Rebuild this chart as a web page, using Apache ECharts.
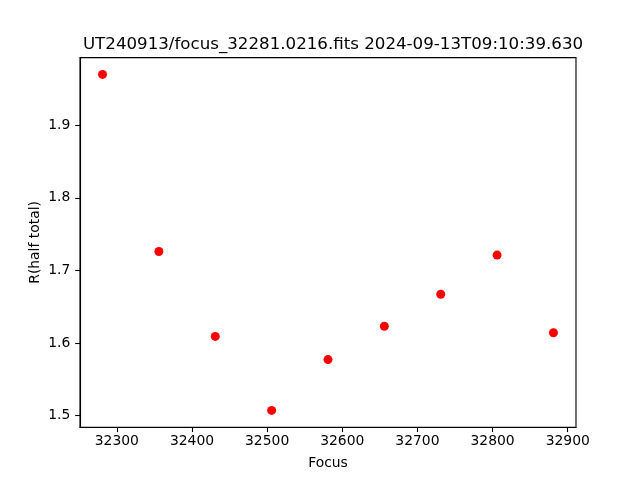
<!DOCTYPE html>
<html>
<head>
<meta charset="utf-8">
<script src="https://cdn.jsdelivr.net/npm/echarts@6/dist/echarts.min.js"></script>
<style>html,body{margin:0;padding:0;background:#fff}#c{width:640px;height:480px}</style>
</head>
<body>
<div id="c"></div>
<script>
const focusValues = [32281, 32356, 32431, 32506, 32581, 32656, 32731, 32806, 32881];
const rHalfTotal = [1.970, 1.726, 1.609, 1.507, 1.577, 1.623, 1.667, 1.721, 1.614];
const xTicks = [32300, 32400, 32500, 32600, 32700, 32800, 32900];
const yTicks = [1.5, 1.6, 1.7, 1.8, 1.9];
const titleText = 'UT240913/focus_32281.0216.fits 2024-09-13T09:10:39.630';

const xMinD = Math.min(...focusValues), xMaxD = Math.max(...focusValues);
const yMinD = Math.min(...rHalfTotal), yMaxD = Math.max(...rHalfTotal);
const xm = (xMaxD - xMinD) * 0.05, ym = (yMaxD - yMinD) * 0.05;

const font = 'DejaVu Sans';
const chart = echarts.init(document.getElementById('c'), null, {renderer: 'canvas'});
chart.setOption({
  animation: false,
  backgroundColor: '#fff',
  title: {
    text: titleText, left: 328, top: 31, textAlign: 'center',
    textStyle: {fontFamily: font, fontSize: 16.67, fontWeight: 'normal', color: '#000'}
  },
  grid: {left: 80, right: 64, top: 57.6, bottom: 52.8, show: true, borderColor: '#000', borderWidth: 1.1, backgroundColor: 'transparent'},
  xAxis: {
    type: 'value', min: xMinD - xm, max: xMaxD + xm,
    name: 'Focus', nameLocation: 'middle', nameGap: 29, nameMoveOverlap: false,
    nameTextStyle: {fontFamily: font, fontSize: 13.9, color: '#000'},
    axisLine: {show: true, lineStyle: {color: '#000', width: 1.1}},
    axisTick: {show: true, length: 4.86, lineStyle: {color: '#000', width: 1.1}, customValues: xTicks},
    axisLabel: {fontFamily: font, fontSize: 13.9, color: '#000', margin: 7.5, customValues: xTicks,
      formatter: v => String(v)},
    splitLine: {show: false}
  },
  yAxis: {
    type: 'value', min: yMinD - ym, max: yMaxD + ym,
    name: 'R(half total)', nameLocation: 'middle', nameGap: 37.5, nameMoveOverlap: false,
    nameTextStyle: {fontFamily: font, fontSize: 13.9, color: '#000'},
    axisLine: {show: true, lineStyle: {color: '#000', width: 1.1}},
    axisTick: {show: true, length: 4.86, lineStyle: {color: '#000', width: 1.1}, customValues: yTicks},
    axisLabel: {fontFamily: font, fontSize: 13.9, color: '#000', margin: 9.7, customValues: yTicks,
      formatter: v => v.toFixed(1)},
    splitLine: {show: false}
  },
  series: [{
    type: 'scatter', symbol: 'circle', symbolSize: 9,
    itemStyle: {color: '#ff0000', opacity: 1},
    data: focusValues.map((f, i) => [f, rHalfTotal[i]])
  }]
});
</script>
</body>
</html>
